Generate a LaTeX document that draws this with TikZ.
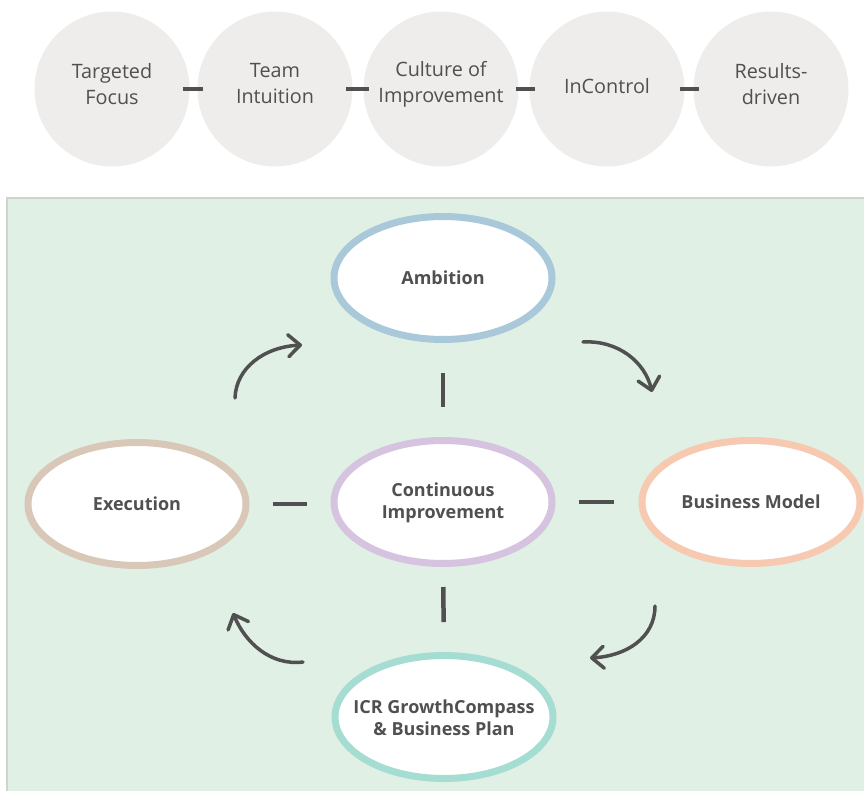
\documentclass[tikz,border=0pt]{standalone}
\usepackage{fontspec}
\setmainfont{Open Sans}
\usetikzlibrary{shapes.geometric,arrows.meta}

\definecolor{pillgray}{HTML}{EEEDEC}
\definecolor{textgray}{HTML}{505050}
\definecolor{panelgreen}{HTML}{E1F0E4}
\definecolor{panelline}{HTML}{D0D4D0}
\definecolor{ambblue}{HTML}{A9C9DA}
\definecolor{exebrown}{HTML}{D9C8B8}
\definecolor{cililac}{HTML}{D5C3DF}
\definecolor{bmpeach}{HTML}{F6C9B0}
\definecolor{icrteal}{HTML}{A5DDD3}

\begin{document}
\begin{tikzpicture}[x=1pt, y=-1pt,
    pill/.style={circle, fill=pillgray, minimum size=155pt, inner sep=0pt},
    pilltext/.style={text=textgray, align=center, yshift=#1, font=\fontsize{19.8}{26}\selectfont},
    oval/.style={ellipse, draw=#1, fill=white, line width=7pt, minimum width=218pt, minimum height=123pt, inner xsep=-20pt, inner ysep=0pt, text=textgray, align=center, font=\fontsize{18}{22}\selectfont\bfseries},
    link/.style={line width=4.5pt, color=textgray},
    turn/.style={line width=3.5pt, color=textgray, line cap=round, -{Straight Barb[round, length=12pt, width=22pt]}}]
      \useasboundingbox (0,0) rectangle (864,791);
      % top row of values
      \node [pill, label={[pilltext=5pt]center:Targeted\\Focus}] (tf) at (112, 89) {};
      \node [pill, label={[pilltext=5pt]center:Team\\Intuition}] (ti) at (275, 89) {};
      \node [pill, label={[pilltext=5pt]center:Culture of\\Improvement}] (cu) at (441, 89) {};
      \node [pill, label={[pilltext=3pt]center:InControl}] (ic) at (607, 89) {};
      \node [pill, label={[pilltext=5pt]center:Results-\\driven}] (rd) at (771, 89) {};
      \draw [link, shorten <=-7pt, shorten >=-6pt] (tf) -- (ti);
      \draw [link, shorten <=-7pt, shorten >=-6pt] (ti) -- (cu);
      \draw [link, shorten <=-3pt, shorten >=-6pt] (cu) -- (ic);
      \draw [link, shorten <=-5pt, shorten >=-6pt] (ic) -- (rd);
      % cycle panel
      \draw [fill=panelgreen, draw=panelline, line width=2pt] (7, 198) rectangle (868, 795);
      \node [oval=ambblue] (amb) at (443, 278) {Ambition};
      \node [oval=exebrown] (exe) at (137, 504) {Execution};
      \node [oval=cililac] (ci) at (443, 502) {\strut Continuous\\Improvement};
      \node [oval=bmpeach] (bm) at (751, 502) {Business Model};
      \node [oval=icrteal] (icr) at (444, 717) {\strut ICR GrowthCompass\\\& Business Plan};
      \draw [link, shorten <=23pt, shorten >=24pt] (exe.east) -- (ci.west |- exe.east);
      \draw [link, shorten <=23pt, shorten >=25pt] (ci) -- (bm);
      \draw [link, shorten <=30pt, shorten >=30pt] (amb) -- (ci);
      \draw [link, shorten <=20pt, shorten >=30pt] (ci) -- (icr);
      % turning arrows
      \coordinate (tl1) at (235, 398);
      \coordinate (tl2) at (302, 345);
      \coordinate (tr1) at (583, 342);
      \coordinate (tr2) at (652, 392);
      \coordinate (br1) at (655, 606);
      \coordinate (br2) at (590, 658);
      \coordinate (bl1) at (303, 662);
      \coordinate (bl2) at (233, 613);
      \draw [turn] (tl1) .. controls (236, 368) and (264, 347) .. (tl2);
      \draw [turn] (tr1) .. controls (618, 340) and (645, 362) .. (tr2);
      \draw [turn] (br1) .. controls (655, 638) and (626, 656) .. (br2);
      \draw [turn] (bl1) .. controls (270, 666) and (245, 642) .. (bl2);
    \end{tikzpicture}
\end{document}
